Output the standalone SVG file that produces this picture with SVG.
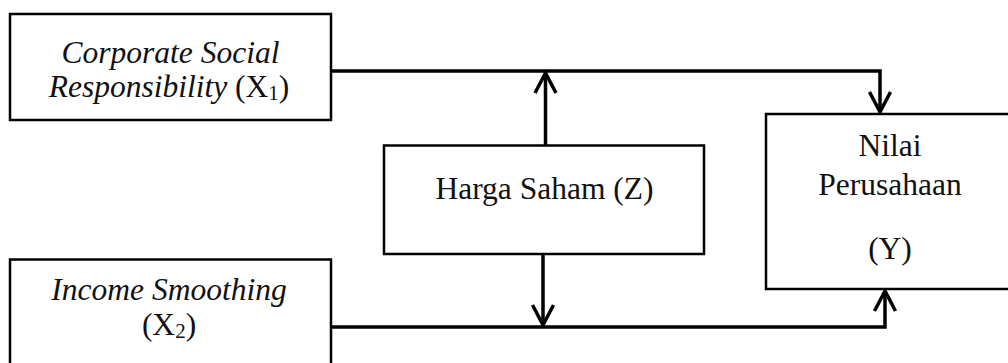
<svg xmlns="http://www.w3.org/2000/svg" width="1008" height="363" viewBox="0 0 1008 363">
  <style>
    .box { fill: #fff; stroke: #000; stroke-width: 2.5; }
    .conn { fill: none; stroke: #000; stroke-width: 3.5; stroke-linejoin: miter; }
    .t { font-family: "Liberation Serif", "Times New Roman", serif; font-size: 31.5px; fill: #111; text-anchor: middle; }
    .it { font-style: italic; }
    .sub { font-size: 21px; }
  </style>
  <defs>
    <marker id="arr" markerUnits="userSpaceOnUse" markerWidth="40" markerHeight="40" refX="0" refY="0" orient="auto" overflow="visible">
      <path d="M-20,-10.5 L0,0 L-20,10.5" fill="none" stroke="#000" stroke-width="3.5"/>
    </marker>
  </defs>
  <rect width="1008" height="363" fill="#fff"/>

  <g id="connectors">
    <path class="conn" d="M331,71 H880 V112" marker-end="url(#arr)"/>
    <path class="conn" d="M545.5,145 V73" marker-end="url(#arr)"/>
    <path class="conn" d="M543,254 V325" marker-end="url(#arr)"/>
    <path class="conn" d="M331,327 H885 V291" marker-end="url(#arr)"/>
  </g>

  <g id="node-x1">
    <rect class="box" x="10" y="14" width="321" height="106"/>
    <text class="t it" x="170.5" y="63">Corporate Social</text>
    <text class="t" x="169" y="97"><tspan class="it">Responsibility</tspan> (X<tspan class="sub" dy="3">1</tspan><tspan dy="-3">)</tspan></text>
  </g>

  <g id="node-z">
    <rect class="box" x="384" y="145.5" width="320" height="108.5"/>
    <text class="t" x="544.5" y="199">Harga Saham (Z)</text>
  </g>

  <g id="node-y">
    <rect class="box" x="766" y="114" width="260" height="175"/>
    <text class="t" x="890" y="156">Nilai</text>
    <text class="t" x="890" y="195">Perusahaan</text>
    <text class="t" x="890" y="259">(Y)</text>
  </g>

  <g id="node-x2">
    <rect class="box" x="10" y="259.5" width="321" height="120"/>
    <text class="t it" x="169" y="300">Income Smoothing</text>
    <text class="t" x="169" y="335">(X<tspan class="sub" dy="3">2</tspan><tspan dy="-3">)</tspan></text>
  </g>
</svg>
